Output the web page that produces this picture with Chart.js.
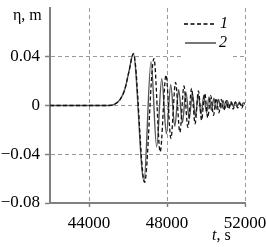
<!DOCTYPE html>
<html>
<head>
<meta charset="utf-8">
<script src="https://cdn.jsdelivr.net/npm/chart.js@4.4.1/dist/chart.umd.min.js"></script>
<style>
  html, body { margin: 0; padding: 0; background: #fff; }
  #wrap { width: 266px; height: 247px; }
</style>
</head>
<body>
<div id="wrap"><canvas id="c" width="266" height="247"></canvas></div>
<script>
// series 1 (dashed) - time, s and elevation, m
const t1 = [42000, 45000, 45300, 45600, 45850, 46050, 46280, 46850, 47330, 47650, 47950, 48200,
  48440, 48660, 48870, 49070, 49260, 49440, 49610, 49775, 49935, 50090, 50240, 50385, 50525,
  50660, 50790, 50915, 51040, 51160, 51280, 51395, 51510, 51620, 51730, 51835, 51940, 52000];
const eta1 = [0, 0, 0.001, 0.005, 0.014, 0.028, 0.0425, -0.063, 0.0385, -0.038, 0.025, -0.027,
  0.019, -0.022, 0.016, -0.018, 0.014, -0.015, 0.012, -0.012, 0.010, -0.010, 0.008, -0.008, 0.006,
  -0.006, 0.005, -0.004, 0.004, -0.003, 0.003, -0.003, 0.003, -0.002, 0.002, -0.002, 0.002, 0.001];

// series 2 (solid)
const t2 = [42000, 45000, 45300, 45600, 45850, 46050, 46270, 46820, 47180, 47470, 47730, 47970,
  48190, 48400, 48600, 48790, 48970, 49140, 49300, 49455, 49605, 49750, 49890, 50025, 50155,
  50280, 50405, 50525, 50645, 50760, 50875, 50985, 51095, 51200, 51305, 51410, 51510, 51610,
  51710, 51810, 51905, 52000];
const eta2 = [0, 0, 0.001, 0.005, 0.014, 0.028, 0.0425, -0.062, 0.036, -0.034, 0.022, -0.023,
  0.017, -0.017, 0.013, -0.014, 0.011, -0.011, 0.010, -0.009, 0.009, -0.007, 0.008, -0.006, 0.007,
  -0.004, 0.006, -0.003, 0.005, -0.002, 0.004, -0.002, 0.004, -0.001, 0.003, -0.001, 0.003,
  -0.0005, 0.003, 0, 0.002, 0.002];

const seriesNames = ['1', '2'];
const xTicks = [44000, 48000, 52000];
const yTicks = [-0.08, -0.04, 0, 0.04];

const FONT = '"Liberation Serif", "Times New Roman", serif';
const AXIS = '#808080';
const GRID = '#9a9a9a';

const toPoints = (ts, vs) => ts.map((t, i) => ({ x: t, y: vs[i] }));

// axis titles and the small legend in the upper right corner
const annotations = {
  id: 'annotations',
  afterDraw(chart) {
    const ctx = chart.ctx;
    ctx.save();
    ctx.fillStyle = '#000';
    ctx.textBaseline = 'middle';
    ctx.font = '16px ' + FONT;
    ctx.textAlign = 'left';
    ctx.fillText('η, m', 13, 16);

    ctx.font = 'italic 16px ' + FONT;
    ctx.fillText('t', 212, 236);
    const tw = ctx.measureText('t').width;
    ctx.font = '16px ' + FONT;
    ctx.fillText(', s', 212 + tw, 236);

    // legend
    ctx.fillStyle = '#fff';
    ctx.fillRect(183, 10, 47, 50);
    ctx.lineWidth = 1.3;
    ctx.strokeStyle = '#000';
    ctx.setLineDash([4, 2.5]);
    ctx.beginPath();
    ctx.moveTo(184, 24);
    ctx.lineTo(216, 24);
    ctx.stroke();
    ctx.setLineDash([]);
    ctx.lineWidth = 2;
    ctx.strokeStyle = '#777';
    ctx.beginPath();
    ctx.moveTo(185, 43);
    ctx.lineTo(216, 43);
    ctx.stroke();
    ctx.fillStyle = '#000';
    ctx.font = 'italic 16px ' + FONT;
    ctx.fillText(seriesNames[0], 220, 24);
    ctx.fillText(seriesNames[1], 219, 43);
    ctx.restore();
  }
};

new Chart(document.getElementById('c'), {
  type: 'line',
  data: {
    datasets: [
      {
        label: seriesNames[0],
        data: toPoints(t1, eta1),
        borderColor: '#111',
        borderWidth: 1.3,
        borderDash: [4, 2.5],
        pointRadius: 0,
        cubicInterpolationMode: 'monotone',
        fill: false
      },
      {
        label: seriesNames[1],
        data: toPoints(t2, eta2),
        borderColor: '#555',
        borderWidth: 1.4,
        pointRadius: 0,
        cubicInterpolationMode: 'monotone',
        fill: false
      }
    ]
  },
  options: {
    responsive: false,
    animation: false,
    devicePixelRatio: 1,
    layout: { padding: { top: 8, right: 21, left: 0, bottom: 0 } },
    plugins: { legend: { display: false }, tooltip: { enabled: false } },
    scales: {
      x: {
        type: 'linear',
        min: 42000,
        max: 52000,
        afterBuildTicks: axis => { axis.ticks = xTicks.map(v => ({ value: v })); },
        afterFit: axis => { axis.height = 44; axis.paddingLeft = 0; axis.paddingRight = 0; },
        grid: { color: GRID, lineWidth: 1, tickLength: 4, tickColor: AXIS, tickWidth: 1.5 },
        border: { display: true, color: AXIS, width: 2, dash: [4, 3] },
        ticks: {
          color: '#000',
          font: { family: FONT, size: 17 },
          padding: 6,
          maxRotation: 0,
          callback: v => String(v)
        }
      },
      y: {
        type: 'linear',
        min: -0.08,
        max: 0.08,
        afterBuildTicks: axis => { axis.ticks = yTicks.map(v => ({ value: v })); },
        afterFit: axis => { axis.width = 50; axis.paddingTop = 0; axis.paddingBottom = 0; },
        grid: { color: GRID, lineWidth: 1, tickLength: 5, tickColor: AXIS, tickWidth: 1.5 },
        border: { display: true, color: AXIS, width: 2, dash: [4, 3] },
        ticks: {
          color: '#000',
          font: { family: FONT, size: 17 },
          padding: 5,
          callback: v => (v === 0 ? '0' : (v < 0 ? '\u2212' : '') + Math.abs(v).toFixed(2))
        }
      }
    }
  },
  plugins: [annotations]
});
</script>
</body>
</html>
